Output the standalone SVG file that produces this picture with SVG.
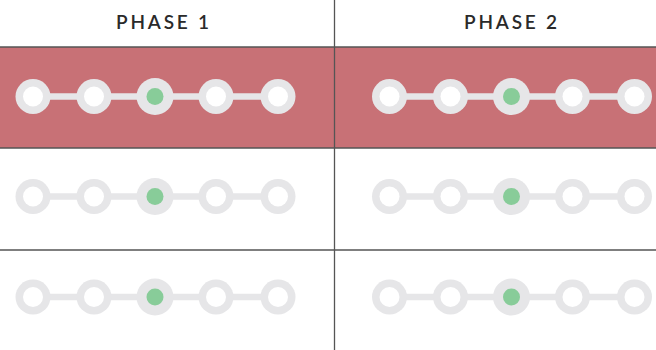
<svg xmlns="http://www.w3.org/2000/svg" width="656" height="350" viewBox="0 0 656 350">
  <style>
    .hdr { font-family: "Lato", "Liberation Sans", sans-serif; font-size: 19px; font-weight: 600; letter-spacing: 2.8px; fill: #2a2a2a; text-anchor: middle; }
    .grid { stroke: #555; stroke-width: 1.3; fill: none; }
    .track { stroke: #E6E6E8; stroke-width: 6.5; }
    .ring { fill: #E6E6E8; }
    .hole { fill: #fff; }
    .dot { fill: #88CC99; }
  </style>
  <defs>
    <g id="step">
      <circle class="ring" r="17.5"/>
      <circle class="hole" r="10"/>
    </g>
    <g id="current">
      <circle class="ring" r="18.5"/>
      <circle class="dot" r="8.5"/>
    </g>
    <g id="track">
      <line class="track" x1="0" y1="0" x2="245" y2="0"/>
      <use href="#step" x="0"/>
      <use href="#step" x="61"/>
      <use href="#current" x="122"/>
      <use href="#step" x="183"/>
      <use href="#step" x="245"/>
    </g>
  </defs>

  <rect width="656" height="350" fill="#fff"/>
  <rect id="highlight" x="0" y="47" width="656" height="101" fill="#C87176"/>

  <g id="header">
    <text class="hdr" x="164" y="28.5">PHASE 1</text>
    <text class="hdr" x="512" y="28.5">PHASE 2</text>
  </g>

  <g id="gridlines">
    <line class="grid" x1="0" y1="47" x2="656" y2="47"/>
    <line class="grid" x1="0" y1="148" x2="656" y2="148"/>
    <line class="grid" x1="0" y1="250" x2="656" y2="250"/>
    <line class="grid" x1="334.5" y1="0" x2="334.5" y2="350"/>
  </g>

  <g id="row1-phase1"><use href="#track" x="33" y="96.5"/></g>
  <g id="row1-phase2"><use href="#track" x="389.5" y="96.5"/></g>
  <g id="row2-phase1"><use href="#track" x="33" y="196.5"/></g>
  <g id="row2-phase2"><use href="#track" x="389.5" y="196.5"/></g>
  <g id="row3-phase1"><use href="#track" x="33" y="297"/></g>
  <g id="row3-phase2"><use href="#track" x="389.5" y="297"/></g>
</svg>
